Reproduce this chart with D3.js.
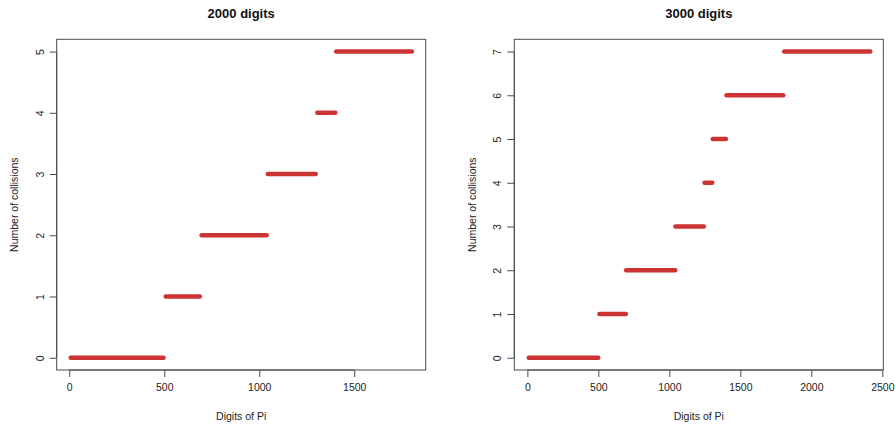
<!DOCTYPE html>
<html>
<head>
<meta charset="utf-8">
<script src="https://cdn.jsdelivr.net/npm/d3@7/dist/d3.min.js"></script>
<style>
  html, body { margin: 0; padding: 0; background: #fff; }
  svg { display: block; font-family: "Liberation Sans", Arial, sans-serif; }
</style>
</head>
<body>
<svg id="chart" width="895" height="425"></svg>
<script>
// Running collision count along the digits of Pi: each run is a level
// (number of collisions) held from one digit position to another.
const counts2000 = [0, 1, 2, 3, 4, 5];
const starts2000 = [8, 508, 697, 1045, 1306, 1405];
const ends2000   = [496, 687, 1039, 1297, 1400, 1803];

const counts3000 = [0, 1, 2, 3, 4, 5, 6, 7];
const starts3000 = [10, 508, 696, 1043, 1248, 1306, 1403, 1809];
const ends3000   = [499, 694, 1041, 1243, 1302, 1398, 1802, 2415];

const xTicks2000 = [0, 500, 1000, 1500];
const xTicks3000 = [0, 500, 1000, 1500, 2000, 2500];
const yTicks2000 = [0, 1, 2, 3, 4, 5];
const yTicks3000 = [0, 1, 2, 3, 4, 5, 6, 7];

const titles = ["2000 digits", "3000 digits"];
const xLabel = "Digits of Pi";
const yLabel = "Number of collisions";

const svg = d3.select("#chart");
const lineColor = "#cd3333";
const ink = "#222";
const frame = "#4a4a4a";

function panel(opt) {
  const { left, right, top, bottom } = opt.box;
  const x = d3.scaleLinear().domain(opt.xDomain).range([left, right]);
  const y = d3.scaleLinear().domain(opt.yDomain).range([bottom, top]);
  const g = svg.append("g");

  // title
  g.append("text")
    .attr("x", (left + right) / 2).attr("y", 17.5)
    .attr("text-anchor", "middle")
    .attr("font-size", 13).attr("font-weight", "bold").attr("fill", "#111")
    .text(opt.title);

  // step runs
  const runs = opt.counts.map((c, i) => ({ c, s: opt.starts[i], e: opt.ends[i] }));
  g.append("g").selectAll("line").data(runs).join("line")
    .attr("x1", d => x(d.s)).attr("x2", d => x(d.e))
    .attr("y1", d => y(d.c)).attr("y2", d => y(d.c))
    .attr("stroke", lineColor).attr("stroke-width", 4.6)
    .attr("stroke-linecap", "round");

  // bottom axis
  const xa = g.append("g").attr("transform", `translate(0,${bottom})`)
    .call(d3.axisBottom(x).tickValues(opt.xTicks).tickFormat(d3.format("d"))
      .tickSizeInner(7).tickSizeOuter(0).tickPadding(7));
  xa.select(".domain").attr("stroke", frame)
    .attr("d", `M${x(opt.xTicks[0])},0H${x(opt.xTicks[opt.xTicks.length - 1])}`);
  xa.selectAll(".tick line").attr("stroke", frame);
  xa.selectAll(".tick text").attr("font-size", 10.5).attr("fill", ink)
    .attr("font-family", "Liberation Sans, Arial, sans-serif");

  // left axis with rotated labels
  const ya = g.append("g").attr("transform", `translate(${left},0)`)
    .call(d3.axisLeft(y).tickValues(opt.yTicks).tickFormat(d3.format("d"))
      .tickSizeInner(7).tickSizeOuter(0));
  ya.select(".domain").attr("stroke", frame)
    .attr("d", `M0,${y(opt.yTicks[0])}V${y(opt.yTicks[opt.yTicks.length - 1])}`);
  ya.selectAll(".tick line").attr("stroke", frame);
  ya.selectAll(".tick text")
    .attr("x", null).attr("dy", null)
    .attr("text-anchor", "middle")
    .attr("transform", "translate(-13,0) rotate(-90)")
    .attr("font-size", 10.5).attr("fill", ink)
    .attr("font-family", "Liberation Sans, Arial, sans-serif");

  // plot frame
  g.append("rect")
    .attr("x", left).attr("y", top)
    .attr("width", right - left).attr("height", bottom - top)
    .attr("fill", "none").attr("stroke", frame).attr("stroke-width", 1);

  // axis titles
  g.append("text")
    .attr("x", (left + right) / 2).attr("y", 420)
    .attr("text-anchor", "middle").attr("font-size", 10.5).attr("fill", ink)
    .text(xLabel);
  g.append("text")
    .attr("transform", `translate(${left - 38.5},${(top + bottom) / 2}) rotate(-90)`)
    .attr("text-anchor", "middle").attr("font-size", 10.5).attr("fill", ink)
    .text(yLabel);
}

panel({
  box: { left: 56.7, right: 425.7, top: 39.3, bottom: 370 },
  xDomain: [-66, 1876], yDomain: [-0.2, 5.2],
  counts: counts2000, starts: starts2000, ends: ends2000,
  xTicks: xTicks2000, yTicks: yTicks2000, title: titles[0]
});

panel({
  box: { left: 514.3, right: 883.3, top: 39.3, bottom: 370 },
  xDomain: [-92, 2507], yDomain: [-0.28, 7.28],
  counts: counts3000, starts: starts3000, ends: ends3000,
  xTicks: xTicks3000, yTicks: yTicks3000, title: titles[1]
});
</script>
</body>
</html>
